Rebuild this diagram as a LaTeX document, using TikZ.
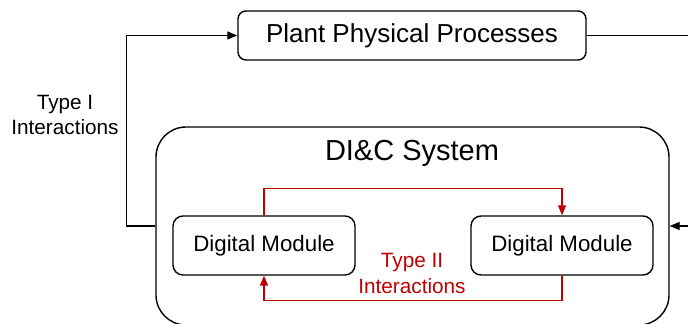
\documentclass[tikz,border=0pt]{standalone}
\usepackage{fontspec}
\setmainfont{Liberation Sans}
\usetikzlibrary{arrows.meta,
                positioning,
                calc}
\definecolor{typetwored}{RGB}{192,0,0}

\begin{document}
\begin{tikzpicture}[
        plant box/.style={
            rectangle,
            draw,
            rounded corners=0.16cm,
            line width=0.8pt,
            minimum width=6.96cm,
            minimum height=0.98cm,
            font=\fontsize{14.8}{17}\selectfont
        },
        system box/.style={
            rectangle,
            draw,
            rounded corners=0.6cm,
            line width=0.8pt,
            minimum width=10.26cm,
            minimum height=3.96cm
        },
        module box/.style={
            rectangle,
            draw,
            rounded corners=0.2cm,
            line width=0.8pt,
            minimum width=3.64cm,
            minimum height=1.18cm,
            font=\fontsize{12.7}{15}\selectfont
        },
        arrow/.style={-{Triangle[length=0.2cm,width=0.16cm]},line width=0.7pt},
        red arrow/.style={arrow,draw=typetwored},
        note text/.style={align=center,font=\fontsize{11.8}{14.5}\selectfont}
    ]

    \useasboundingbox (0,0) rectangle (13.76,-6.48);

    % 物理过程
    \node[plant box] (plant) at (8.24,-0.71) {Plant Physical Processes};

    % DI&C 系统框
    \node[system box] (dic) at (8.25,-4.52) {};
    \node[font=\fontsize{16.5}{19}\selectfont] (dictitle) at (8.24,-3.06) {DI\&C System};

    % 数字模块
    \node[module box] (dmL) at (5.28,-4.91) {Digital Module};
    \node[module box] (dmR) at (11.24,-4.91) {Digital Module};

    % Type I 连接
    \draw[arrow] (dic.west) -- ++(-0.58,0) |- (plant.west);
    \draw[arrow] (plant.east) -- ++(2.4,0) |- (dic.east);
    \node[note text] (typeone) at (1.30,-2.30) {Type I\\Interactions};

    % Type II 连接
    \draw[red arrow] (dmL.north) -- ++(0,0.54) -| (dmR.north);
    \draw[red arrow] (dmR.south) -- ++(0,-0.5) -| (dmL.south);
    \node[note text,text=typetwored] (typetwo) at (8.24,-5.47) {Type II\\Interactions};

\end{tikzpicture}
\end{document}
